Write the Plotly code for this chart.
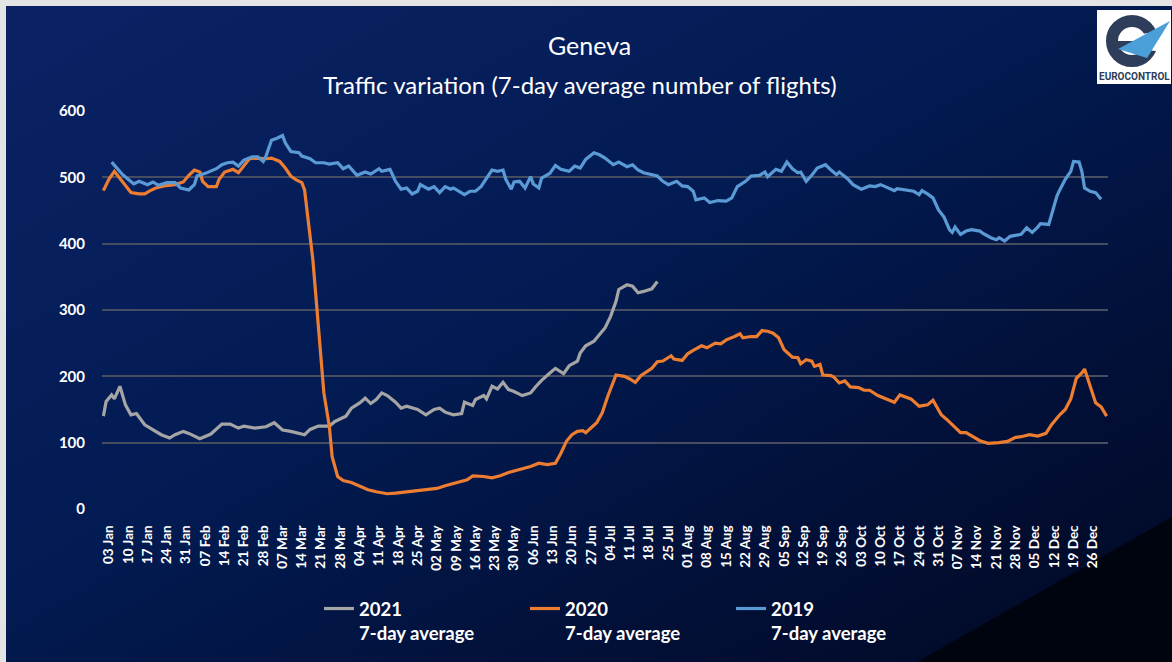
import base64
import datetime as dt
import plotly.graph_objects as go

# ---------------- data (day of year, 7-day average flights) ----------------
days_2021 = [1, 2, 4, 5, 7, 9, 11, 13, 16, 19, 22, 25, 27, 30, 32, 36, 38, 40, 44, 47, 50, 52, 56, 60,
             63, 66, 69, 74, 76, 79, 83, 85, 89, 91, 94, 96, 98, 100, 102, 104, 107, 109, 111, 115,
             118, 121, 123, 125, 128, 131, 132, 135, 136, 139, 140, 142, 144, 146, 148, 150, 153,
             156, 158, 160, 163, 165, 168, 170, 173, 174, 176, 179, 181, 183, 185, 187, 188, 191,
             193, 195, 197, 200, 202]
vals_2021 = [140, 162, 172, 166, 185, 157, 142, 144, 127, 120, 112, 107, 112, 117, 114, 106, 110, 113,
             128, 128, 122, 125, 122, 124, 130, 119, 117, 112, 120, 125, 125, 132, 140, 152, 160, 167,
             159, 165, 175, 171, 161, 152, 155, 150, 142, 150, 152, 146, 142, 144, 161, 156, 165, 171,
             166, 185, 181, 191, 180, 177, 171, 175, 185, 194, 205, 212, 204, 216, 223, 235, 246, 253,
             263, 273, 290, 313, 331, 338, 336, 326, 328, 332, 343]

days_2020 = [1, 3, 5, 7, 9, 11, 14, 16, 18, 20, 23, 27, 30, 32, 34, 36, 37, 39, 42, 43, 45, 48, 50, 52,
             54, 57, 60, 62, 65, 67, 69, 71, 73, 74, 75, 76, 77, 78, 79, 80, 81, 83, 84, 86, 88, 91,
             94, 97, 100, 104, 107, 111, 115, 118, 122, 125, 129, 133, 135, 139, 142, 145, 148, 152,
             156, 159, 162, 165, 167, 169, 171, 173, 175, 176, 178, 180, 182, 184, 187, 190, 192, 194,
             196, 199, 200, 202, 204, 207, 208, 211, 213, 215, 218, 220, 223, 225, 227, 230, 232, 233,
             236, 238, 240, 242, 244, 246, 248, 251, 253, 254, 256, 258, 259, 261, 262, 265, 266, 268,
             270, 272, 275, 277, 279, 282, 285, 288, 290, 294, 297, 300, 302, 305, 307, 309, 312, 314,
             317, 319, 322, 324, 326, 329, 332, 334, 337, 340, 343, 345, 348, 350, 352, 354, 356, 357,
             359, 361, 363, 365]
vals_2020 = [480, 497, 509, 498, 486, 477, 475, 475, 480, 484, 487, 489, 493, 503, 511, 508, 494, 486,
             486, 497, 508, 512, 507, 517, 528, 529, 528, 529, 524, 514, 502, 496, 492, 481, 446, 411,
             376, 326, 275, 225, 175, 124, 79, 49, 43, 40, 34, 29, 26, 23, 24, 26, 28, 30, 31, 35, 39,
             44, 50, 49, 47, 50, 55, 59, 64, 69, 67, 69, 84, 102, 112, 117, 118, 115, 123, 130, 145,
             170, 202, 200, 196, 191, 201, 209, 212, 222, 223, 231, 226, 224, 234, 239, 246, 243, 250,
             249, 255, 260, 264, 258, 260, 260, 269, 268, 265, 258, 240, 229, 228, 219, 225, 223, 215,
             218, 202, 201, 199, 190, 193, 184, 183, 179, 179, 171, 166, 161, 172, 166, 155, 157, 164,
             142, 135, 127, 115, 115, 108, 103, 99, 99, 100, 102, 108, 109, 112, 110, 114, 127, 142,
             150, 166, 197, 205, 211, 185, 160, 154, 140]

days_2019 = [4, 6, 8, 10, 12, 14, 17, 19, 21, 24, 27, 29, 32, 34, 35, 38, 40, 42, 44, 46, 48, 50, 52,
             55, 57, 59, 60, 62, 64, 66, 67, 69, 72, 73, 76, 78, 81, 83, 86, 88, 90, 93, 96, 98, 101,
             102, 105, 107, 109, 111, 113, 115, 116, 119, 121, 123, 125, 127, 128, 130, 132, 134, 136,
             138, 140, 142, 144, 146, 147, 149, 150, 152, 154, 156, 157, 159, 160, 163, 165, 167, 170,
             172, 174, 176, 179, 181, 183, 186, 188, 191, 193, 195, 197, 200, 202, 204, 206, 209, 211,
             213, 215, 216, 219, 221, 224, 227, 229, 231, 234, 236, 239, 241, 242, 245, 247, 249, 251,
             253, 254, 256, 258, 260, 263, 265, 267, 268, 271, 273, 276, 279, 281, 283, 285, 288, 289,
             293, 295, 297, 298, 300, 302, 304, 306, 308, 309, 310, 312, 314, 316, 319, 320, 323, 325,
             326, 328, 330, 332, 334, 336, 338, 340, 341, 344, 345, 347, 348, 350, 352, 353, 355, 356,
             357, 359, 361, 363]
vals_2019 = [523, 513, 504, 497, 490, 494, 489, 493, 488, 492, 492, 484, 481, 489, 502, 506, 509, 513,
             519, 522, 523, 517, 526, 531, 531, 524, 532, 556, 559, 563, 552, 539, 537, 532, 528, 522,
             522, 520, 522, 513, 517, 503, 508, 505, 513, 509, 512, 494, 482, 484, 475, 479, 489, 482,
             486, 477, 486, 482, 484, 479, 474, 479, 479, 486, 498, 511, 509, 511, 497, 482, 493, 494,
             484, 501, 490, 484, 499, 506, 518, 512, 509, 517, 514, 527, 537, 534, 529, 519, 523, 516,
             519, 511, 507, 504, 502, 494, 489, 494, 487, 486, 479, 466, 469, 462, 465, 464, 469, 486,
             494, 502, 503, 508, 501, 512, 509, 523, 513, 507, 508, 494, 503, 514, 519, 511, 504, 508,
             498, 489, 482, 487, 486, 489, 485, 480, 483, 481, 479, 474, 480, 475, 469, 451, 440, 421,
             417, 425, 414, 419, 421, 419, 416, 409, 406, 409, 404, 411, 412, 414, 424, 417, 425, 430,
             429, 444, 472, 481, 497, 509, 524, 523, 509, 484, 479, 477, 467]

series_names = ["2021<br>7-day average", "2020<br>7-day average", "2019<br>7-day average"]
series_colors = ["#a5a5a5", "#ed7d31", "#5b9bd5"]

title_text = "Geneva"
subtitle_text = "Traffic variation (7-day average number of flights)"

# ---------------- helpers ----------------
W, H = 1172, 662
PL, PR, PT, PB = 102, 1108, 111, 509   # plot area in pixels


def px(x):
    return (x - PL) / (PR - PL)


def py(y):
    return (PB - y) / (PB - PT)


BASE = dt.date(2021, 1, 1)


def to_dates(days):
    return [(BASE + dt.timedelta(days=d - 1)).isoformat() for d in days]


fig = go.Figure()
for days, vals, name, col in zip([days_2021, days_2020, days_2019],
                                 [vals_2021, vals_2020, vals_2019],
                                 series_names, series_colors):
    fig.add_trace(go.Scatter(x=to_dates(days), y=vals, mode="lines", name=name,
                             line=dict(color=col, width=3.2), hoverinfo="skip"))

# ---------------- background (gradient slide) ----------------
bg_svg = (
    '<svg xmlns="http://www.w3.org/2000/svg" width="1166" height="656" viewBox="0 0 1166 656" '
    'preserveAspectRatio="none"><defs><linearGradient id="g" x1="0" y1="0" x2="1" y2="1">'
    '<stop offset="0" stop-color="#0b2265"/><stop offset="0.45" stop-color="#021b52"/>'
    '<stop offset="0.8" stop-color="#020e33"/><stop offset="1" stop-color="#010821"/>'
    '</linearGradient></defs><rect width="1166" height="656" fill="url(#g)"/>'
    '<polygon points="911,656 1166,511 1166,656" fill="#00040f"/></svg>'
)
bg_uri = "data:image/svg+xml;base64," + base64.b64encode(bg_svg.encode()).decode()

shapes = []
# Eurocontrol logo (approximation)
logo_dark = "#2e3e5a"
shapes.append(dict(type="rect", xref="paper", yref="paper", x0=px(1097), x1=px(1171),
                   y0=py(84), y1=py(10), fillcolor="white", line=dict(width=0), layer="above"))
shapes.append(dict(type="circle", xref="paper", yref="paper", x0=px(1112), x1=px(1152),
                   y0=py(61), y1=py(21), line=dict(color=logo_dark, width=12), layer="above"))
shapes.append(dict(type="path", xref="paper", yref="paper",
                   path=f"M{px(1142)},{py(34)} L{px(1166)},{py(30)} L{px(1166)},{py(52)} L{px(1146)},{py(50)} Z",
                   fillcolor="white", line=dict(width=0), layer="above"))
shapes.append(dict(type="path", xref="paper", yref="paper",
                   path=f"M{px(1112)},{py(41)} L{px(1150)},{py(41)} L{px(1150)},{py(48)} L{px(1112)},{py(48)} Z",
                   fillcolor=logo_dark, line=dict(width=0), layer="above"))
shapes.append(dict(type="path", xref="paper", yref="paper",
                   path=f"M{px(1118)},{py(49)} L{px(1170)},{py(21)} L{px(1147)},{py(58)} Z",
                   fillcolor="#4a9fd8", line=dict(width=0), layer="above"))

annotations = [
    dict(text=title_text, x=px(589), y=py(45), xref="paper", yref="paper", showarrow=False,
         xanchor="center", yanchor="middle", font=dict(family="Lato", size=25, color="white")),
    dict(text=subtitle_text, x=px(580), y=py(84), xref="paper", yref="paper", showarrow=False,
         xanchor="center", yanchor="middle", font=dict(family="Lato", size=24, color="white")),
    dict(text="EUROCONTROL", x=px(1134), y=py(77), xref="paper", yref="paper", showarrow=False,
         xanchor="center", yanchor="middle",
         font=dict(family="Roboto", size=10, color=logo_dark, weight="bold")),
]

fig.update_layout(
    width=W, height=H,
    margin=dict(l=PL, r=W - PR, t=PT, b=H - PB, autoexpand=False),
    paper_bgcolor="#e4e4e4",
    plot_bgcolor="rgba(0,0,0,0)",
    images=[dict(source=bg_uri, xref="paper", yref="paper", x=px(6), y=py(6),
                 sizex=px(1172) - px(6), sizey=py(6) - py(662), sizing="stretch",
                 xanchor="left", yanchor="top", layer="below")],
    shapes=shapes,
    annotations=annotations,
    showlegend=True,
    legend=dict(orientation="h", x=px(319), xanchor="left", y=py(590), yanchor="top",
                font=dict(family="Lato", size=18.5, color="white", weight="bold"),
                bgcolor="rgba(0,0,0,0)", entrywidth=161, entrywidthmode="pixels",
                valign="top", traceorder="normal"),
    xaxis=dict(type="date", range=["2020-12-31 12:00", "2021-12-31 12:00"],
               tick0="2021-01-03", dtick=7 * 86400000, tickformat="%d %b", tickangle=-90,
               showgrid=False, zeroline=False, showline=False,
               ticks="outside", ticklen=10, tickcolor="rgba(0,0,0,0)",
               tickfont=dict(family="Lato", size=13.5, color="white", weight="bold")),
    yaxis=dict(range=[0, 600], dtick=100, showgrid=True, gridcolor="#464d60", gridwidth=1.5,
               zeroline=False, showline=False, ticks="outside", ticklen=13,
               tickcolor="rgba(0,0,0,0)",
               tickfont=dict(family="Lato", size=15, color="white", weight="bold")),
)

fig.write_html("out.html", config={"displayModeBar": False},
               post_script="document.body.style.margin='0px';")
